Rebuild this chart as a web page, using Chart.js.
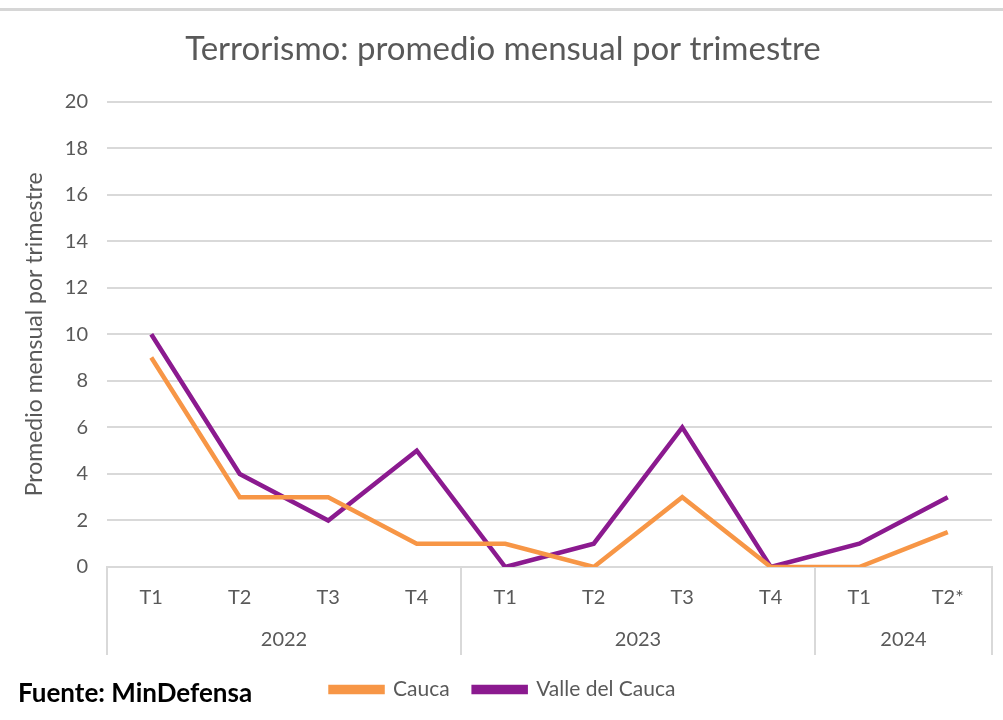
<!DOCTYPE html>
<html>
<head>
<meta charset="utf-8">
<script src="https://cdn.jsdelivr.net/npm/chart.js@4/dist/chart.umd.min.js"></script>
<style>
  body { margin: 0; background: #fff; }
  #wrap { position: relative; width: 1003px; height: 720px; }
  #topline { position: absolute; left: 0; top: 8px; width: 1003px; height: 3px; background: #d6d6d6; }
  #fuente { position: absolute; left: 18px; top: 676px; font: bold 26px Lato, "Open Sans", sans-serif; color: #000; }
</style>
</head>
<body>
<div id="wrap">
  <div id="topline"></div>
  <canvas id="chart" width="1003" height="720"></canvas>
  <div id="fuente">Fuente: MinDefensa</div>
</div>
<script>
const ctx = document.getElementById('chart').getContext("2d");

var quarters = ['T1', 'T2', 'T3', 'T4', 'T1', 'T2', 'T3', 'T4', 'T1', 'T2*'];
var years = ['2022', '2023', '2024'];
var yearSizes = [4, 4, 2];
var cauca = [9, 3, 3, 1, 1, 0, 3, 0, 0, 1.5];
var valle = [10, 4, 2, 5, 0, 1, 6, 0, 1, 3];

var fontName = 'Lato, "Open Sans", sans-serif';
var grey = '#595959';

// draws the year row and the group separators under the axis
var yearGroups = {
    id: 'yearGroups',
    afterDraw(chart) {
        var x = chart.scales.x;
        var c = chart.ctx;
        var top = x.top;
        var bottom = top + 88;
        var half = (x.getPixelForValue(1) - x.getPixelForValue(0)) / 2;
        c.save();
        c.strokeStyle = '#d9d9d9';
        c.lineWidth = 2;
        c.fillStyle = grey;
        c.font = '20px ' + fontName;
        c.textAlign = 'center';
        c.textBaseline = 'middle';
        var start = 0;
        for (var i = 0; i <= years.length; i++) {
            var px = i < years.length ? x.getPixelForValue(start) - half : x.getPixelForValue(start - 1) + half;
            c.beginPath();
            c.moveTo(px, top);
            c.lineTo(px, bottom);
            c.stroke();
            if (i < years.length) {
                var a = x.getPixelForValue(start) - half;
                var b = x.getPixelForValue(start + yearSizes[i] - 1) + half;
                c.fillText(years[i], (a + b) / 2, top + 73);
                start += yearSizes[i];
            }
        }
        c.restore();
    }
};

var myChart = new Chart(ctx, {
    type: 'line',
    data: {
        labels: quarters,
        datasets: [{
            label: 'Cauca',
            data: cauca,
            borderColor: '#F79646',
            backgroundColor: '#F79646',
            borderWidth: 4.5,
            pointRadius: 0,
            tension: 0
        }, {
            label: 'Valle del Cauca',
            data: valle,
            borderColor: '#8B1A8F',
            backgroundColor: '#8B1A8F',
            borderWidth: 4.5,
            pointRadius: 0,
            tension: 0
        }]
    },
    options: {
        responsive: false,
        animation: false,
        layout: { padding: { left: 14, right: 11, top: 0, bottom: 10 } },
        plugins: {
            title: {
                display: true,
                text: 'Terrorismo: promedio mensual por trimestre',
                color: grey,
                font: { family: fontName, size: 33, weight: 'normal' },
                padding: { top: 30, bottom: 32 }
            },
            legend: {
                position: 'bottom',
                labels: {
                    color: grey,
                    font: { family: fontName, size: 21 },
                    boxWidth: 52,
                    boxHeight: 5,
                    padding: 24
                }
            },
            tooltip: { enabled: false }
        },
        scales: {
            x: {
                offset: true,
                grid: { display: false, drawTicks: false },
                border: { display: true, color: '#d9d9d9', width: 2 },
                ticks: { color: grey, font: { family: fontName, size: 20 }, padding: 19 },
                afterFit(scale) { scale.height = 88; }
            },
            y: {
                min: 0,
                max: 20,
                ticks: { stepSize: 2, color: grey, font: { family: fontName, size: 20 }, padding: 19 },
                grid: { color: '#d9d9d9', lineWidth: 2, drawTicks: false },
                border: { display: false },
                title: {
                    display: true,
                    text: 'Promedio mensual por trimestre',
                    color: grey,
                    font: { family: fontName, size: 23 },
                    padding: { top: 7, bottom: 0 }
                },
                afterFit(scale) { scale.width = 93; }
            }
        }
    },
    plugins: [yearGroups]
});
</script>
</body>
</html>
